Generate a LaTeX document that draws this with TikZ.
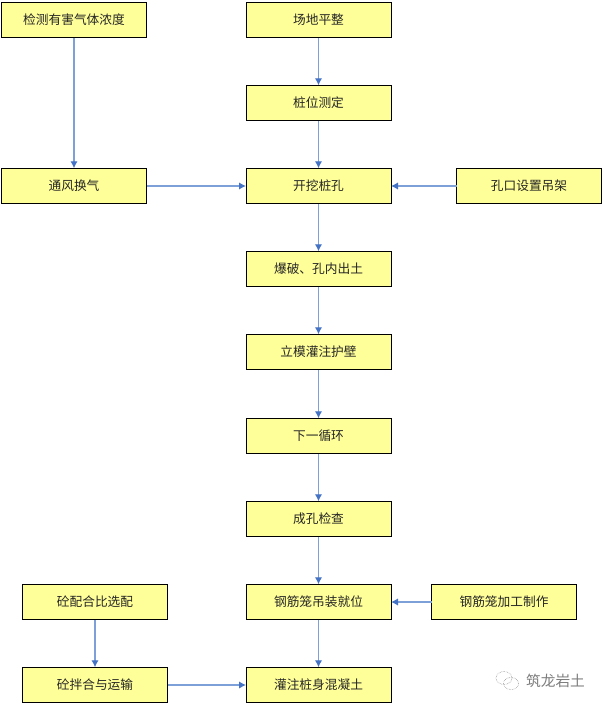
\documentclass[tikz,border=0pt]{standalone}
\usepackage{fontspec}
\setmainfont{Noto Sans CJK SC}
\usetikzlibrary{arrows.meta}
\definecolor{boxfill}{RGB}{255,255,153}
\definecolor{linkblue}{RGB}{68,114,196}
\definecolor{linkpale}{RGB}{126,160,216}
\definecolor{markgrey}{RGB}{125,125,125}
\tikzset{
  x=1pt,y=-1pt,
  stage/.style={draw=black,line width=0.9pt,fill=boxfill,minimum width=145pt,minimum height=35.5pt,
    inner sep=0pt,outer sep=0pt,font=\fontsize{12.7pt}{14pt}\selectfont,text=black!85},
  link/.style={draw=linkpale,line width=1.5pt,-{Latex[length=7pt,width=7.5pt,color=linkblue]}}
}
\begin{document}
\begin{tikzpicture}
\useasboundingbox[fill=white] (0,0) rectangle (605,707);
% left-hand preparation
\node[stage] (gas)  at (74,20)    {检测有害气体浓度};
\node[stage] (vent) at (74,186)   {通风换气};
% main sequence
\node[stage] (site) at (318.5,20)    {场地平整};
\node[stage] (mark) at (318.5,103)   {桩位测定};
\node[stage] (dig)  at (318.5,186)   {开挖桩孔};
\node[stage] (blast) at (318.5,269)  {爆破、孔内出土};
\node[stage] (wall) at (318.5,352)   {立模灌注护壁};
\node[stage] (next) at (318.5,436)   {下一循环};
\node[stage] (check) at (318.5,519)  {成孔检查};
\node[stage] (cage) at (318.5,602)   {钢筋笼吊装就位};
\node[stage] (pour) at (318.5,685)   {灌注桩身混凝土};
% right-hand supply
\node[stage] (hoist) at (529,186)    {孔口设置吊架};
\node[stage] (make) at (504,602)     {钢筋笼加工制作};
% concrete preparation
\node[stage] (ratio) at (95,602)     {砼配合比选配};
\node[stage] (mix) at (95,685)       {砼拌合与运输};
% connectors
\draw[link] (gas) -- (vent);
\draw[link] (vent) -- (dig);
\draw[link] (site) -- (mark);
\draw[link] (mark) -- (dig);
\draw[link] (hoist) -- (dig);
\draw[link] (dig) -- (blast);
\draw[link] (blast) -- (wall);
\draw[link] (wall) -- (next);
\draw[link] (next) -- (check);
\draw[link] (check) -- (cage);
\draw[link] (make) -- (cage);
\draw[link] (cage) -- (pour);
\draw[link] (ratio) -- (mix);
\draw[link] (mix) -- (pour);
% account mark, lower right
\draw[markgrey,line width=0.5pt,densely dotted] (504,678) ellipse (8 and 6.5);
\draw[markgrey,line width=0.5pt,densely dotted] (511,683.5) ellipse (7.5 and 6);
\node[font=\fontsize{14.7pt}{15pt}\selectfont,text=markgrey,inner sep=0pt] (brand) at (555.5,681) {筑龙岩土};
\end{tikzpicture}
\end{document}
